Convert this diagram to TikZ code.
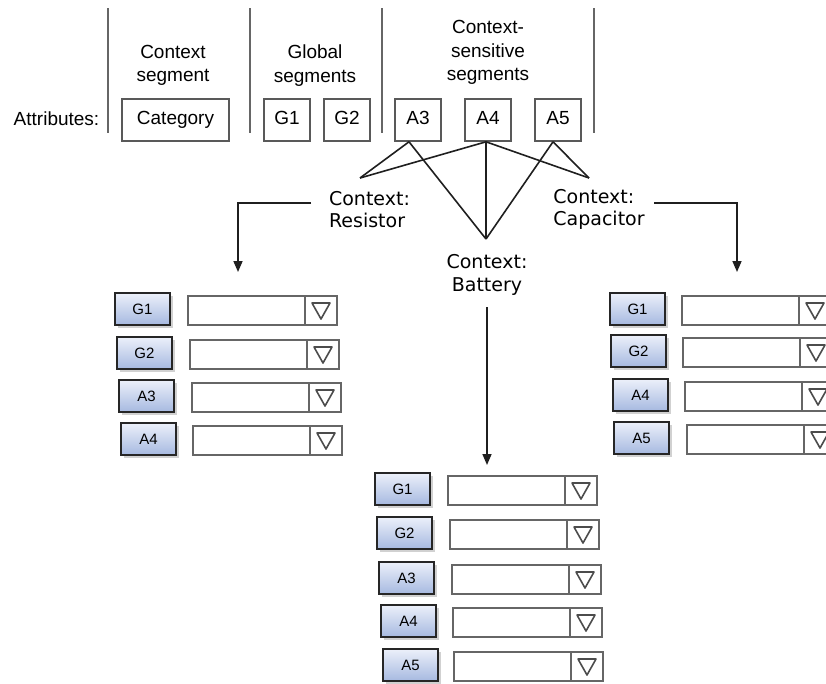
\documentclass[tikz,border=0pt]{standalone}
\usepackage{fontspec}
\setmainfont{Liberation Sans}
\newfontfamily\ctxfont{DejaVu Sans}
\usetikzlibrary{arrows.meta,shadows}
\definecolor{btntop}{RGB}{236,240,250}
\definecolor{btnbot}{RGB}{166,185,224}
\tikzstyle{divider}=[draw=black!60, line width=1.8pt]
\tikzstyle{attr}=[draw=black!65, line width=1.6pt, minimum height=42pt, inner sep=0pt,
                  text height=13.5pt, text depth=4pt, font=\fontsize{19}{23}\selectfont]
\tikzstyle{heading}=[align=center, inner sep=0pt, font=\fontsize{19}{23.5}\selectfont]
\tikzstyle{ctx}=[inner sep=0pt, font=\ctxfont\fontsize{19}{22.5}\selectfont]
\tikzstyle{link}=[draw=black!88, line width=1.6pt]
\tikzstyle{flow}=[link, -{Triangle[length=11pt,width=9pt]}]
\tikzstyle{btn}=[draw=black!85, line width=1.8pt, minimum width=55pt, minimum height=32pt,
                 inner sep=0pt, top color=btntop, bottom color=btnbot,
                 general shadow={fill=black!18, shadow xshift=3pt, shadow yshift=-3pt},
                 font=\fontsize{15}{17}\selectfont]
\tikzstyle{fld}=[draw=black!60, line width=1.8pt, minimum width=117pt, minimum height=29pt,
                 inner sep=0pt, outer sep=0pt, fill=white]
\tikzstyle{dd}=[fld, minimum width=32pt]
\tikzstyle{ddtri}=[draw=black!70, line width=1.6pt, line join=round]

% one row of a form: name, label, button left, row top, field left
\newcommand{\formrow}[5]{%
  \node[btn] (#1-btn) at (#3+27.5,#4+16) {#2};
  \node[fld] (#1-fld) at (#5+58.5,#4+17.5) {};
  \node[dd, anchor=west] (#1-dd) at (#1-fld.east) {};
  \draw[ddtri] (#1-dd.center) ++(-9,-7.5) -- ++(18,0) -- ++(-9,16) -- cycle;
}

\begin{document}
\begin{tikzpicture}[x=1pt,y=-1pt]
\useasboundingbox (0,0) rectangle (826,683);

% segment columns
\draw[divider] (108,8) -- (108,133);
\draw[divider] (250,8) -- (250,133);
\draw[divider] (382,8) -- (382,133);
\draw[divider] (594,8) -- (594,133);

\node[heading] (hctx) at (173,65.5) {Context\\segment};
\node[heading] (hglob) at (315,65.5) {Global\\segments};
\node[heading] (hsens) at (488,52.5) {Context-\\sensitive\\segments};

\node[heading] (attrs) at (56.5,119) {Attributes:};
\node[attr, minimum width=107pt] (cat) at (175.5,120) {Category};
\node[attr, minimum width=46pt] (g1) at (287,120) {G1};
\node[attr, minimum width=46pt] (g2) at (347,120) {G2};
\node[attr, minimum width=46pt] (a3) at (418,120) {A3};
\node[attr, minimum width=46pt] (a4) at (488,120) {A4};
\node[attr, minimum width=46pt] (a5) at (558,120) {A5};

% contexts
\node[ctx, align=left] (res) at (369.5,209.5) {Context:\\Resistor};
\node[ctx, align=left] (cap) at (599,209.5) {Context:\\Capacitor};
\node[ctx, align=center] (bat) at (487,275) {Context:\\Battery};

\coordinate (resp) at (360,178);
\coordinate (batp) at (486,239);
\coordinate (capp) at (589,178);

\draw[link] ([xshift=-9pt]a3.south) -- (resp);
\draw[link] ([xshift=-2pt]a4.south) -- (resp);
\draw[link] ([xshift=-9pt]a3.south) -- (batp);
\draw[link] ([xshift=-2pt]a4.south) -- (batp);
\draw[link] ([xshift=-5pt]a5.south) -- (batp);
\draw[link] ([xshift=-2pt]a4.south) -- (capp);
\draw[link] ([xshift=-5pt]a5.south) -- (capp);

\coordinate (resout) at (311,203);
\coordinate (resin) at (238,272);
\coordinate (capout) at (654,203);
\coordinate (capin) at (737,272);
\coordinate (batout) at (487,307);
\coordinate (batin) at (487,465);

\draw[flow] (resout) -| (resin);
\draw[flow] (capout) -| (capin);
\draw[flow] (batout) -- (batin);

% resistor form
\formrow{rl1}{G1}{115}{293}{188}
\formrow{rl2}{G2}{117}{337}{190}
\formrow{rl3}{A3}{119}{380}{192}
\formrow{rl4}{A4}{121}{423}{193}

% capacitor form
\formrow{rr1}{G1}{610}{293}{682}
\formrow{rr2}{G2}{611}{335}{683}
\formrow{rr3}{A4}{613}{379}{685}
\formrow{rr4}{A5}{614}{422}{687}

% battery form
\formrow{rb1}{G1}{375}{473}{448}
\formrow{rb2}{G2}{377}{517}{450}
\formrow{rb3}{A3}{379}{562}{452}
\formrow{rb4}{A4}{381}{605}{453}
\formrow{rb5}{A5}{383}{649}{454}

\end{tikzpicture}
\end{document}
